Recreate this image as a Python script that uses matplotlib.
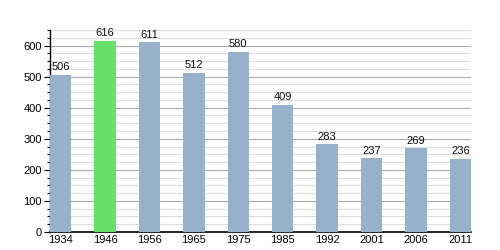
import numpy as np
import matplotlib
matplotlib.use("Agg")
import matplotlib.pyplot as plt
from matplotlib.ticker import MultipleLocator

years = ["1934", "1946", "1956", "1965", "1975", "1985", "1992", "2001", "2006", "2011"]
population = [506, 616, 611, 512, 580, 409, 283, 237, 269, 236]
highlight = "1946"

plt.rcParams["font.family"] = ["Liberation Sans", "DejaVu Sans"]

fig = plt.figure(figsize=(5, 2.5), dpi=100)
ax = fig.add_axes([0.1, 0.072, 0.842, 0.808])

x = np.arange(len(years))
colors = ["#66e066" if y == highlight else "#97b1cc" for y in years]
ax.bar(x, population, width=0.48, color=colors, zorder=3)

for xi, v in zip(x, population):
    ax.text(xi, v + 8, str(v), ha="center", va="bottom", fontsize=8, color="#111111")

ax.set_xlim(-0.24, len(years) - 1 + 0.24)
ax.set_ylim(0, 650)
ax.yaxis.set_major_locator(MultipleLocator(100))
ax.yaxis.set_minor_locator(MultipleLocator(25))
ax.grid(which="major", axis="y", color="#aaaaaa", linewidth=0.8, zorder=0)
ax.grid(which="minor", axis="y", color="#dddddd", linewidth=0.8, zorder=0)

ax.set_xticks(x)
ax.set_xticklabels(years)
ax.tick_params(axis="x", length=0, pad=2, labelsize=8)
ax.tick_params(axis="y", which="major", length=4, width=0.8, labelsize=8, pad=2)
ax.tick_params(axis="y", which="minor", length=2, width=0.8)

for s in ["top", "right"]:
    ax.spines[s].set_visible(False)
ax.spines["left"].set_linewidth(1)
ax.spines["bottom"].set_linewidth(1.2)

fig.savefig("out.png", dpi=100)
